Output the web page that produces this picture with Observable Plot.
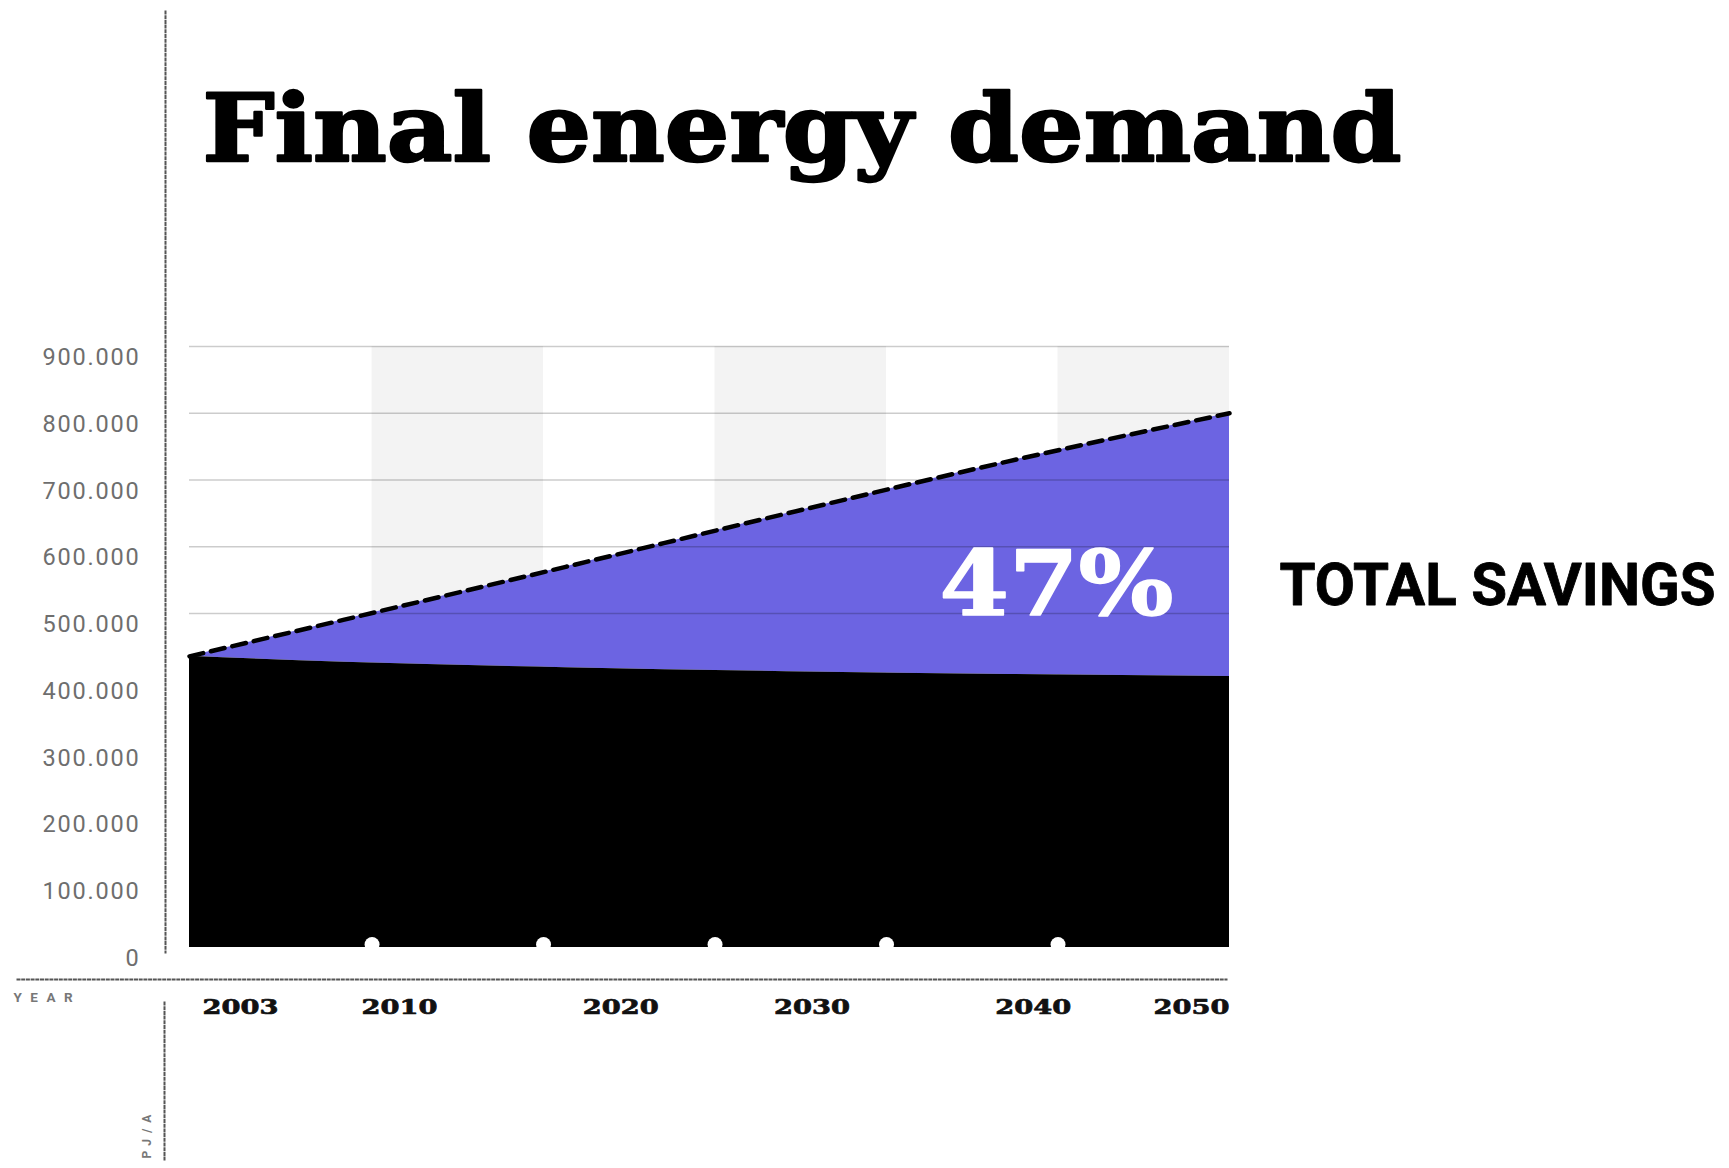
<!DOCTYPE html>
<html>
<head>
<meta charset="utf-8">
<script src="https://cdn.jsdelivr.net/npm/d3@7"></script>
<script src="https://cdn.jsdelivr.net/npm/@observablehq/plot@0.6"></script>
<style>
  html, body { margin: 0; padding: 0; background: #fff; }
</style>
</head>
<body>
<div id="chart"></div>
<script>
// ---- data ----
const years = [2003, 2010, 2020, 2030, 2040, 2050];
const referenceDemand = [436000, 491000, 570000, 650000, 728000, 800000];   // dashed line (reference scenario)
const efficiencyDemand = [436000, 427000, 419000, 413000, 409000, 406000];  // black area (energy efficiency scenario)
const yTicks = [0, 100000, 200000, 300000, 400000, 500000, 600000, 700000, 800000, 900000];
const xTickLabels = ["2003", "2010", "2020", "2030", "2040", "2050"];
const columnEdges = [2003, 2011.25, 2019, 2026.75, 2034.5, 2042.25, 2050];
const shadedColumns = [1, 3, 5];
const title = "Final energy demand";
const savingsValue = "47%";
const savingsLabel = "TOTAL SAVINGS";
const xAxisName = "YEAR";
const yAxisName = "PJ/A";

// ---- tables built from the arrays ----
const rows = years.map((year, i) => ({year, reference: referenceDemand[i], efficiency: efficiencyDemand[i]}));
const bands = shadedColumns.map(i => ({x1: columnEdges[i], x2: columnEdges[i + 1]}));
const bumps = columnEdges.slice(1, -1);
const tickRows = years.map((year, i) => ({year, label: xTickLabels[i], i}));
const fmt = d => d3.format(",")(d).replace(/,/g, ".");

const purple = "#6c64e2";
const curve = "monotone-x";
const slab = "DejaVu Serif";
const dotted = {stroke: "#555", strokeWidth: 2, strokeDasharray: "2,2.7"};
const xTickStyle = {x: "year", text: "label", frameAnchor: "bottom", lineAnchor: "bottom", dy: 66,
  fontSize: 21, fontFamily: slab, fontWeight: "bold", fill: "#111", stroke: "#111", strokeWidth: 0.7};
const last = years.length - 1;

const chart = Plot.plot({
  width: 1729,
  height: 1168,
  marginLeft: 189,
  marginRight: 500,
  marginTop: 346,
  marginBottom: 221,
  x: {domain: [2003, 2050], axis: null},
  y: {domain: [0, 900000], axis: null},
  style: {background: "#fff"},
  marks: [
    Plot.rect(bands, {x1: "x1", x2: "x2", y1: 0, y2: 900000, fill: "#f3f3f3"}),
    Plot.areaY(rows, {x: "year", y1: "efficiency", y2: "reference", fill: purple, curve}),
    Plot.areaY(rows, {x: "year", y: "efficiency", fill: "#000", curve}),
    Plot.ruleY(yTicks.filter(d => d > 0), {stroke: "#000", strokeOpacity: 0.2, strokeWidth: 1.5}),
    Plot.lineY(rows, {x: "year", y: "reference", stroke: "#000", strokeWidth: 4.5, strokeDasharray: "14,8", curve}),
    Plot.dot(bumps, {x: d => d, y: 0, r: 7.5, fill: "#fff", dy: -3}),
    Plot.frame({anchor: "left", insetLeft: -24, insetTop: -335, insetBottom: -5, ...dotted}),
    Plot.frame({anchor: "left", insetLeft: -25, insetTop: 656, insetBottom: -213, ...dotted}),
    Plot.frame({anchor: "bottom", insetBottom: -32, insetLeft: -172, insetRight: 3, ...dotted}),
    Plot.text(yTicks, {y: d => d, text: fmt, frameAnchor: "left", textAnchor: "end", lineAnchor: "middle",
      dx: -49, dy: 11, fontSize: 23.5, fontFamily: "Roboto", fill: "#6e6e6e"}),
    Plot.text(tickRows.filter(d => d.i === 0), {...xTickStyle, textAnchor: "start", dx: 13}),
    Plot.text(tickRows.filter(d => d.i > 0 && d.i < 3), {...xTickStyle, textAnchor: "middle", dx: 55}),
    Plot.text(tickRows.filter(d => d.i >= 3 && d.i < last), {...xTickStyle, textAnchor: "middle", dx: 25}),
    Plot.text(tickRows.filter(d => d.i === last), {...xTickStyle, textAnchor: "end", dx: 0}),
    Plot.text([xAxisName], {text: d => d, frameAnchor: "bottom-left", textAnchor: "start", lineAnchor: "bottom",
      dx: -176, dy: 54, fontSize: 13.5, fontFamily: "Roboto", fontWeight: "bold", fill: "#777"}),
    Plot.text([yAxisName], {text: d => d, frameAnchor: "bottom-left", textAnchor: "middle", lineAnchor: "middle",
      rotate: -90, dx: -42, dy: 186, fontSize: 12, fontFamily: "Roboto", fontWeight: "bold", fill: "#777"}),
    Plot.text([title], {text: d => d, frameAnchor: "top-left", textAnchor: "start", lineAnchor: "bottom",
      dx: 13, dy: -186, fontSize: 94, fontFamily: slab, fontWeight: "bold", fill: "#000",
      stroke: "#000", strokeWidth: 2.5}),
    Plot.text([savingsValue], {text: d => d, frameAnchor: "right", textAnchor: "end", lineAnchor: "bottom",
      dx: -56, dy: -32, fontSize: 90, fontFamily: slab, fontWeight: "bold", fill: "#fff",
      stroke: "#fff", strokeWidth: 1.5}),
    Plot.text([savingsLabel], {text: d => d, frameAnchor: "right", textAnchor: "start", lineAnchor: "bottom",
      dx: 50, dy: -42, fontSize: 59, fontFamily: "Roboto", fontWeight: "bold", fill: "#000",
      stroke: "#000", strokeWidth: 0.8})
  ]
});

// text fitting by content
const svg = d3.select(chart);
const byText = list => svg.selectAll("text").filter(function () { return list.includes(this.textContent); });
const fit = (sel, len) => sel.attr("textLength", len).attr("lengthAdjust", "spacingAndGlyphs");
fit(byText([title]), 1199);
fit(byText(xTickLabels), 76);
fit(byText([savingsValue]), 234);
fit(byText([savingsLabel]), 436);
byText(yTicks.map(fmt)).style("letter-spacing", "1.8px");
byText([xAxisName]).style("letter-spacing", "8.5px");
byText([yAxisName]).style("letter-spacing", "6px");

document.getElementById("chart").appendChild(chart);
</script>
</body>
</html>
